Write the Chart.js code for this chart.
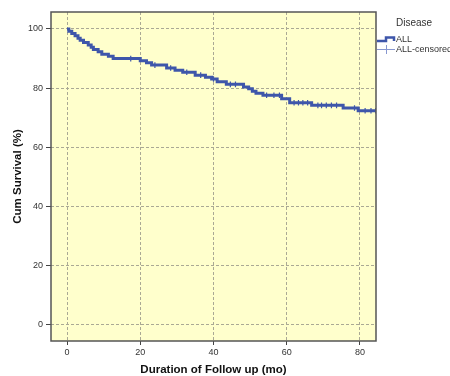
<!DOCTYPE html>
<html>
<head>
<meta charset="utf-8">
<script src="https://cdn.jsdelivr.net/npm/chart.js@4"></script>
<style>
  body { margin: 0; background: #fff; }
  #wrap { width: 450px; height: 376px; }
</style>
</head>
<body>
<div id="wrap"><canvas id="km" width="450" height="376"></canvas></div>
<script>
// Kaplan-Meier estimate
const eventTimes = [0, 0.5, 1.3, 2.2, 3.0, 3.6, 4.5, 5.8, 6.6, 7.2, 8.5, 9.5, 11.3, 12.6,
  20.0, 21.7, 23.1, 27.2, 29.5, 31.6, 35.0, 37.8, 39.5, 41.0, 43.5, 48.2, 49.6, 50.6,
  51.6, 53.5, 58.6, 60.8, 66.8, 75.4, 79.5];
const eventSurv = [100, 99.2, 98.5, 97.7, 96.9, 96.2, 95.4, 94.6, 93.8, 93.1, 92.3, 91.5, 90.8, 90.0,
  89.3, 88.6, 87.8, 86.8, 86.1, 85.4, 84.4, 83.7, 83.1, 82.2, 81.3, 80.4, 79.8, 79.0,
  78.3, 77.6, 76.4, 75.1, 74.2, 73.3, 72.4];

const censorTimes = [17.4, 24.0, 28.3, 32.7, 36.5, 40.0, 44.6, 46.0, 54.5, 56.5, 58.0,
  62.0, 63.2, 64.4, 65.7, 68.5, 69.5, 70.8, 72.2, 73.6, 78.5, 81.4, 83.0, 84.3];
const censorSurv = [90.0, 87.8, 86.8, 85.4, 84.4, 83.1, 81.3, 81.3, 77.6, 77.6, 77.6,
  75.1, 75.1, 75.1, 75.1, 74.2, 74.2, 74.2, 74.2, 74.2, 73.3, 72.4, 72.4, 72.4];

const xTicks = [0, 20, 40, 60, 80];
const yTicks = [0, 20, 40, 60, 80, 100];

const LINE = '#3e56aa';
const TEXT = '#333';

const curve = eventTimes.map((t, i) => ({ x: t, y: eventSurv[i] }));
// curve runs on to the last censored case
curve.push({ x: censorTimes[censorTimes.length - 1], y: censorSurv[censorSurv.length - 1] });
const censored = censorTimes.map((t, i) => ({ x: t, y: censorSurv[i] }));

const plotFrame = {
  id: 'plotFrame',
  beforeDraw(chart) {
    const { ctx, chartArea: a } = chart;
    ctx.save();
    ctx.fillStyle = '#ffffcc';
    ctx.fillRect(a.left, a.top, a.right - a.left, a.bottom - a.top);
    ctx.restore();
  },
  afterDraw(chart) {
    const { ctx, chartArea: a } = chart;
    ctx.save();
    ctx.strokeStyle = '#555';
    ctx.lineWidth = 1.5;
    ctx.strokeRect(a.left, a.top, a.right - a.left, a.bottom - a.top);

    // legend
    ctx.fillStyle = TEXT;
    ctx.textBaseline = 'middle';
    ctx.font = '10px "Liberation Sans", Arial, sans-serif';
    ctx.fillText('Disease', 396, 23);
    ctx.font = '9px "Liberation Sans", Arial, sans-serif';
    ctx.fillText('ALL', 396, 40);
    ctx.fillText('ALL-censored', 396, 50);

    ctx.strokeStyle = LINE;
    ctx.lineWidth = 2.5;
    ctx.beginPath();
    ctx.moveTo(377, 41);
    ctx.lineTo(386, 41);
    ctx.lineTo(386, 37.5);
    ctx.lineTo(394, 37.5);
    ctx.lineTo(394, 41);
    ctx.stroke();

    ctx.strokeStyle = '#8797d0';
    ctx.lineWidth = 1;
    ctx.beginPath();
    ctx.moveTo(377, 49.5);
    ctx.lineTo(395, 49.5);
    ctx.moveTo(386.5, 45);
    ctx.lineTo(386.5, 54);
    ctx.stroke();
    ctx.restore();
  }
};

const tickFont = { family: '"Liberation Sans", Arial, sans-serif', size: 9 };
const titleFont = { family: '"Liberation Sans", Arial, sans-serif', size: 11.5, weight: 'bold', lineHeight: 1 };

new Chart(document.getElementById('km'), {
  type: 'scatter',
  data: {
    datasets: [
      { label: 'ALL', data: curve, showLine: true, stepped: true,
        borderColor: LINE, borderWidth: 3, pointRadius: 0, fill: false },
      { label: 'ALL-censored', data: censored, showLine: false,
        pointStyle: 'cross', pointRadius: 2.8, borderColor: LINE, borderWidth: 1.2 },
    ]
  },
  options: {
    responsive: false, animation: false,
    layout: { padding: { top: 12, right: 74, left: 0, bottom: 0 } },
    plugins: { legend: { display: false }, tooltip: { enabled: false } },
    scales: {
      x: {
        type: 'linear', min: -4.37, max: 84.37,
        afterBuildTicks: s => { s.ticks = xTicks.map(v => ({ value: v })); },
        afterFit: s => { s.height = 35; },
        ticks: { color: TEXT, font: tickFont, padding: 2, maxRotation: 0 },
        grid: { color: '#aaa994', lineWidth: 1, tickLength: 4, tickColor: '#444' },
        border: { display: false, dash: [3, 2] },
        title: { display: true, text: 'Duration of Follow up (mo)', color: '#111', font: titleFont, padding: 0 }
      },
      y: {
        type: 'linear', min: -5.41, max: 105.74,
        afterBuildTicks: s => { s.ticks = yTicks.map(v => ({ value: v })); },
        afterFit: s => { s.width = 51; },
        ticks: { color: TEXT, font: tickFont, padding: 3 },
        grid: { color: '#aaa994', lineWidth: 1, tickLength: 5, tickColor: '#444' },
        border: { display: false, dash: [3, 2] },
        title: { display: true, text: 'Cum Survival (%)', color: '#111', font: titleFont, padding: { top: 12, bottom: 0 } }
      }
    }
  },
  plugins: [plotFrame]
});
</script>
</body>
</html>
